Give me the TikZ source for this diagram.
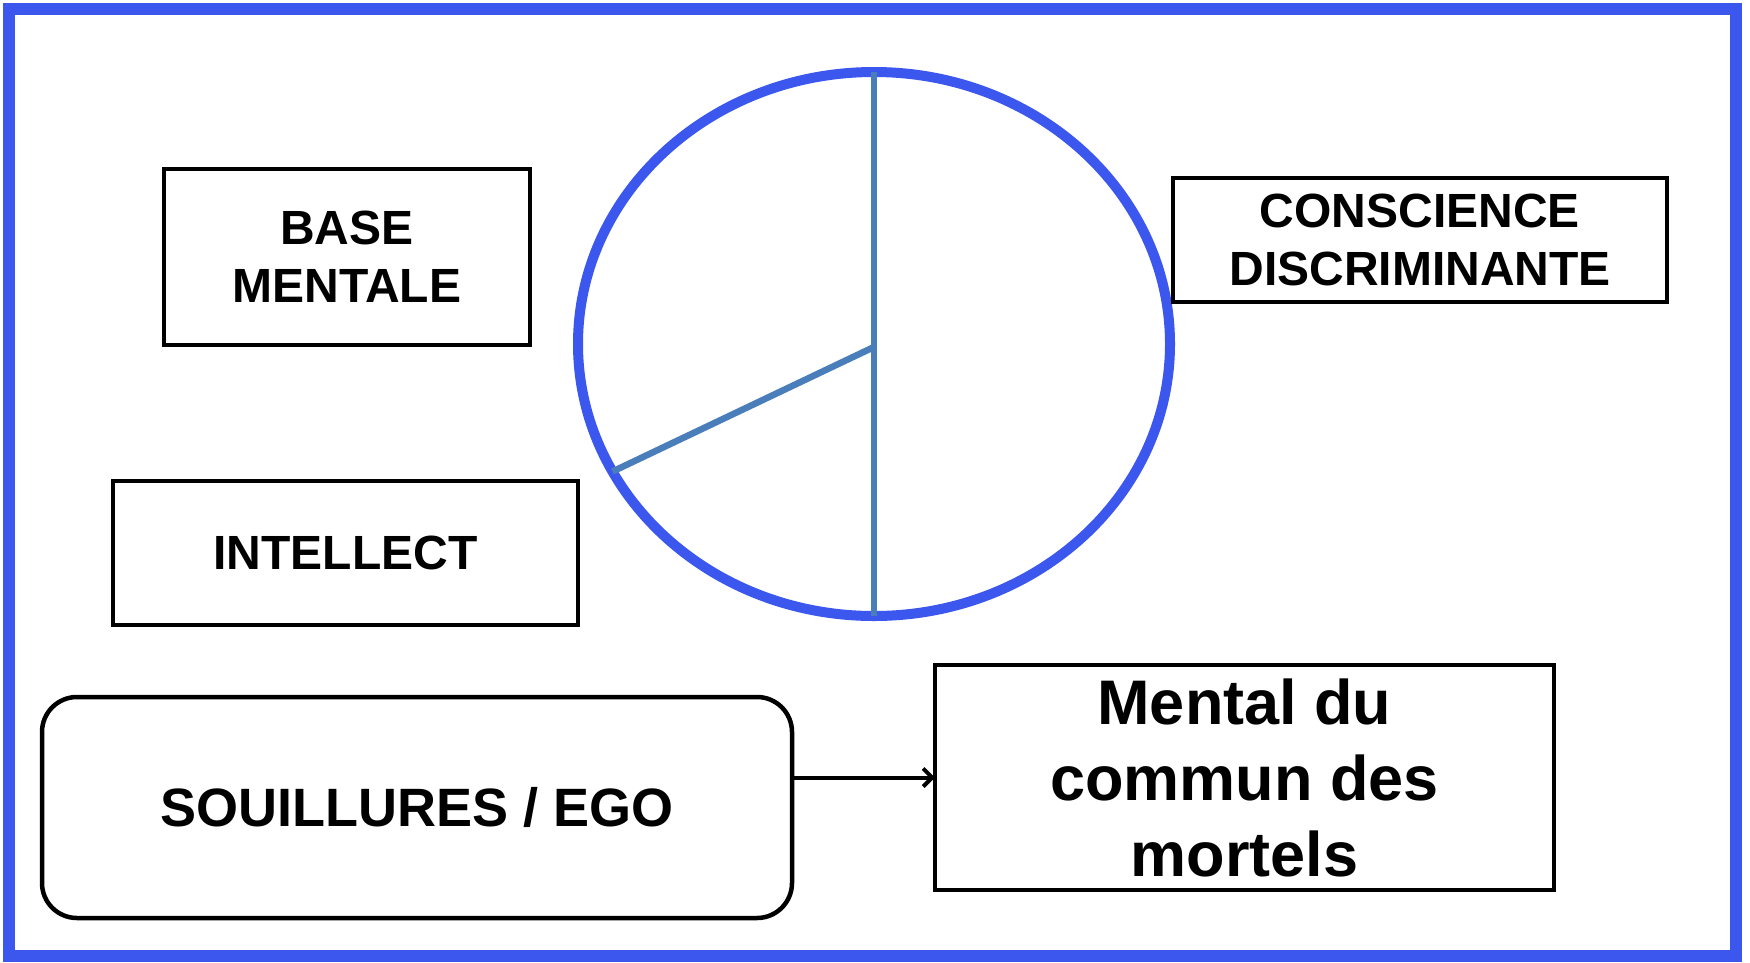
\documentclass[tikz,border=0pt]{standalone}
\usepackage{fontspec}
\setmainfont{Liberation Sans}
\usetikzlibrary{shapes.geometric,arrows.meta}
\definecolor{frameblue}{RGB}{59,87,238}
\definecolor{steelline}{RGB}{74,126,187}
\begin{document}
\begin{tikzpicture}[x=1pt,y=-1pt,
  box/.style={draw=black, line width=4.5pt, rectangle, align=center,
    inner sep=0pt, outer sep=0pt, font=\bfseries\fontsize{48}{58}\selectfont},
  bigbox/.style={box, font=\bfseries\fontsize{63}{76}\selectfont},
  spoke/.style={draw=steelline, line width=6.5pt},
  link/.style={draw=black, line width=4pt, -{Straight Barb[length=9pt,width=18pt,line width=4pt]}}]
\useasboundingbox (0,0) rectangle (1750,962);
\fill[white] (0,0) rectangle (1750,962);
\draw[frameblue, line width=12pt] (9,9) rectangle (1736,956);

\node[draw=frameblue, line width=10pt, ellipse, minimum width=592pt, minimum height=544pt,
      inner sep=0pt, outer sep=0pt] (circ) at (874,344) {};
\coordinate (hub) at (874,347);
\draw[spoke] (circ.north) -- (circ.south);
\draw[spoke] (hub) -- (circ.206.6);

\node[box, minimum width=366pt, minimum height=176pt] (base) at (347,257) {BASE\\MENTALE};
\node[box, minimum width=494pt, minimum height=124pt] (consc) at (1420,240) {CONSCIENCE\\DISCRIMINANTE};
\node[box, minimum width=465pt, minimum height=144pt] (intel) at (345.5,553) {INTELLECT};
\node[box, rounded corners=35pt, font=\bfseries\fontsize{54}{64}\selectfont,
      minimum width=750pt, minimum height=221pt] (souil) at (417,807.5) {SOUILLURES / EGO};
\node[bigbox, minimum width=619pt, minimum height=225pt] (mental) at (1244.5,777.5) {Mental du\\commun des\\mortels};

\draw[link] (souil.east |- mental.west) -- (mental.west);
\end{tikzpicture}
\end{document}
